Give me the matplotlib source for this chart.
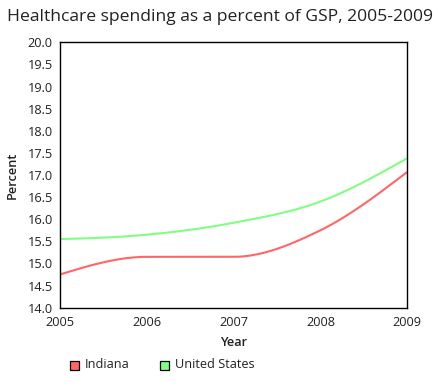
import numpy as np
import matplotlib
matplotlib.use("Agg")
import matplotlib.pyplot as plt
from matplotlib.patches import Rectangle

years = [2005, 2006, 2007, 2008, 2009]
indiana = [14.75, 15.15, 15.15, 15.75, 17.07]
united_states = [15.55, 15.65, 15.92, 16.40, 17.38]
series_names = ["Indiana", "United States"]
series_colors = ["#ff6666", "#80ff80"]
y_ticks = [14.0, 14.5, 15.0, 15.5, 16.0, 16.5, 17.0, 17.5, 18.0, 18.5, 19.0, 19.5, 20.0]

plt.rcParams['font.family'] = ['Open Sans', 'DejaVu Sans']


def monotone_x(x, y, n=40):
    """d3 curveMonotoneX style rendering of a line."""
    x = np.asarray(x, float)
    y = np.asarray(y, float)
    h = np.diff(x)
    s = np.diff(y) / h
    m = np.zeros_like(y)
    for i in range(1, len(x) - 1):
        s0, s1 = s[i - 1], s[i]
        p = (s0 * h[i] + s1 * h[i - 1]) / (h[i - 1] + h[i])
        m[i] = (np.sign(s0) + np.sign(s1)) * min(abs(s0), abs(s1), 0.5 * abs(p))
    m[0] = (3 * s[0] - m[1]) / 2
    m[-1] = (3 * s[-1] - m[-2]) / 2
    xs, ys = [], []
    for i in range(len(x) - 1):
        t = np.linspace(0, 1, n, endpoint=(i == len(x) - 2))
        h00 = 2 * t**3 - 3 * t**2 + 1
        h10 = t**3 - 2 * t**2 + t
        h01 = -2 * t**3 + 3 * t**2
        h11 = t**3 - t**2
        xs.append(x[i] + t * h[i])
        ys.append(h00 * y[i] + h10 * h[i] * m[i] + h01 * y[i + 1] + h11 * h[i] * m[i + 1])
    return np.concatenate(xs), np.concatenate(ys)


fig = plt.figure(figsize=(4.4, 3.9), dpi=100)
ax = fig.add_axes([0.1357, 0.211, 0.79, 0.6805])

for vals, color in zip([indiana, united_states], series_colors):
    xs, ys = monotone_x(years, vals)
    ax.plot(xs, ys, color=color, lw=1.5, solid_capstyle='round')

ax.set_xlim(years[0], years[-1])
ax.set_ylim(y_ticks[0], y_ticks[-1])
ax.set_xticks(years)
ax.set_xticklabels([str(v) for v in years])
ax.set_yticks(y_ticks)
ax.set_yticklabels([f"{v:.1f}" for v in y_ticks])
ax.tick_params(axis='both', length=0, labelsize=9.2, colors='#222222')
ax.tick_params(axis='y', pad=5)
ax.tick_params(axis='x', pad=6)
for sp in ax.spines.values():
    sp.set_color('black')
    sp.set_linewidth(1.0)

ax.set_xlabel("Year", fontsize=9.2, fontweight='semibold', labelpad=5, color='#222222')
ax.set_ylabel("Percent", fontsize=9.2, fontweight='semibold', labelpad=6, color='#222222')

fig.text(0.5, 0.956, "Healthcare spending as a percent of GSP, 2005-2009",
         ha='center', va='center', fontsize=12.6, color='#222222')

# legend
legend_x = [69.5, 159.5]
for name, color, lx in zip(series_names, series_colors, legend_x):
    fig.add_artist(Rectangle((lx / 440, 1 - 369.5 / 390), 9.5 / 440, 9 / 390,
                             transform=fig.transFigure, facecolor=color,
                             edgecolor='black', lw=0.9))
    fig.text((lx + 15) / 440, 1 - 365 / 390, name, ha='left', va='center',
             fontsize=9.2, color='#222222')

fig.savefig("out.png", dpi=100)
